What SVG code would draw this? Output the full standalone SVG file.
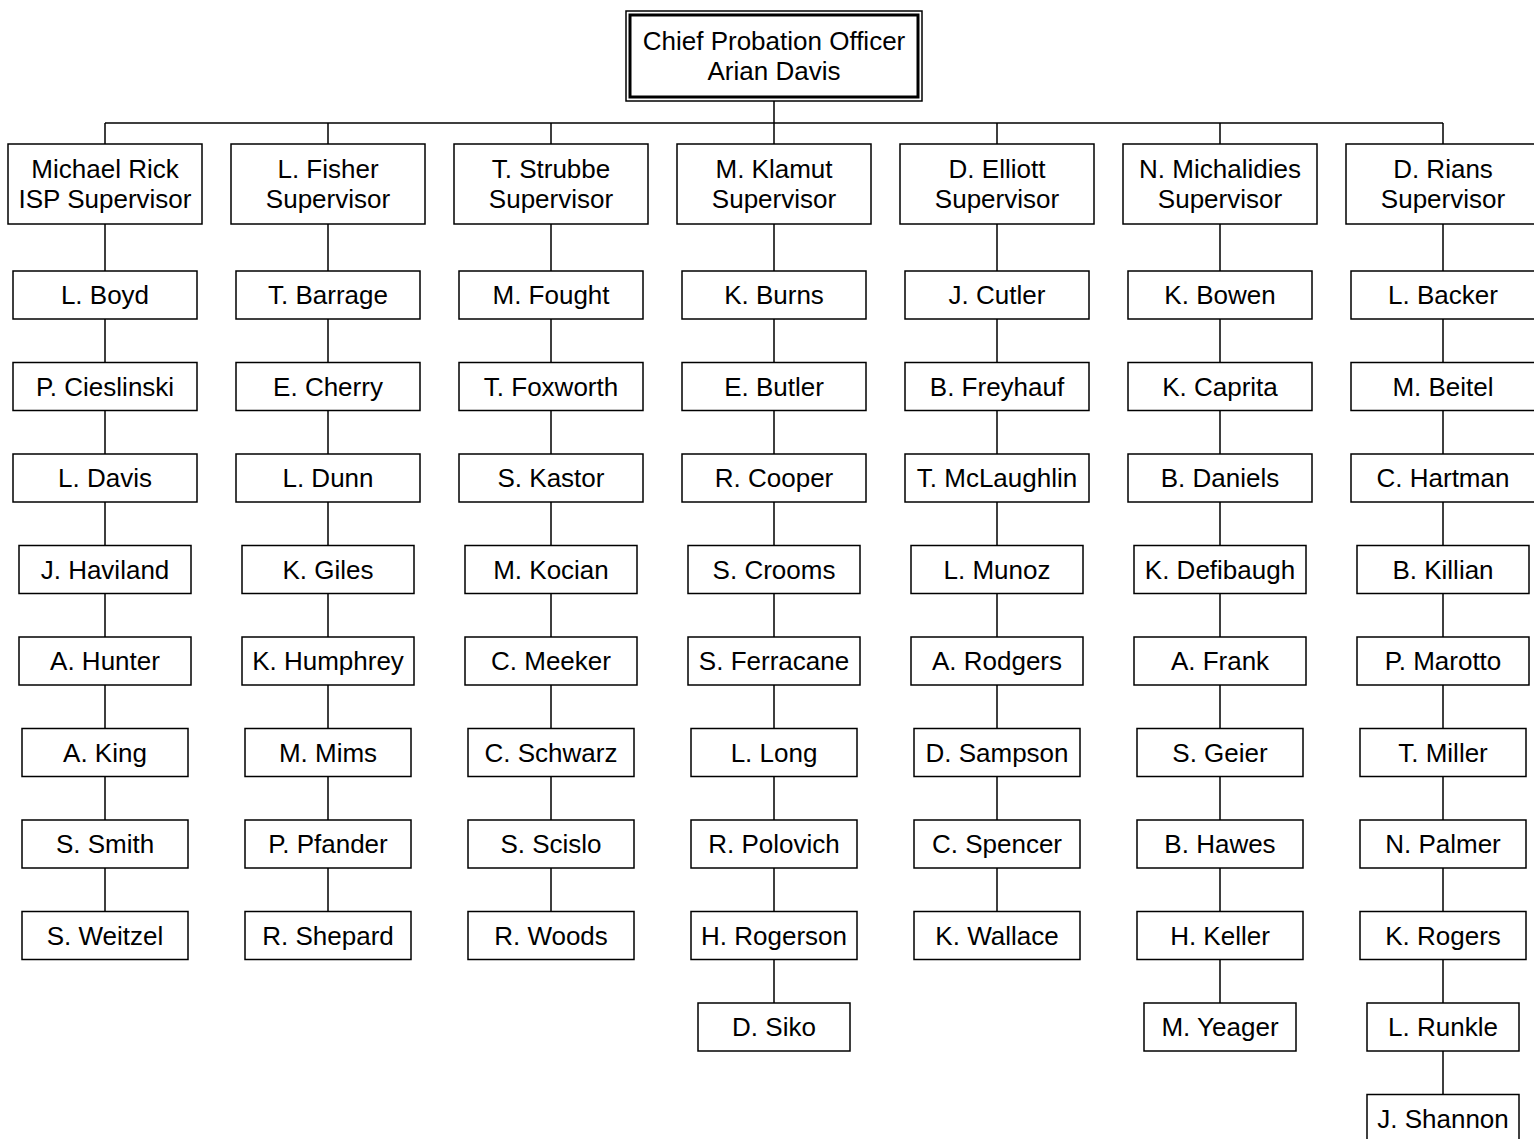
<svg xmlns="http://www.w3.org/2000/svg" width="1534" height="1139" viewBox="0 0 1534 1139">
<style>
.b{fill:#fff;stroke:#000;stroke-width:1.5}
.tk{fill:none;stroke:#000;stroke-width:3}
.c{fill:none;stroke:#000;stroke-width:1.5}
text{font-family:"Liberation Sans",Arial,sans-serif;font-size:26px;fill:#000;text-anchor:middle}
</style>
<rect width="1534" height="1139" fill="#fff"/>
<g id="connectors">
<path class="c" d="M774 101V123M105 123H1443M105 123V911.5M328 123V911.5M551 123V911.5M774 123V1003M997 123V911.5M1220 123V1003M1443 123V1094.5"/>
</g>
<g id="chief"><rect class="b" x="626" y="11" width="296" height="90"/><rect class="tk" x="630" y="15" width="288" height="82"/><text x="774" y="50">Chief Probation Officer</text><text x="774" y="80">Arian Davis</text></g>
<g id="sup-rick"><rect class="b" x="8" y="144" width="194" height="80"/><text x="105" y="178">Michael Rick</text><text x="105" y="208">ISP Supervisor</text></g>
<g id="sup-fisher"><rect class="b" x="231" y="144" width="194" height="80"/><text x="328" y="178">L. Fisher</text><text x="328" y="208">Supervisor</text></g>
<g id="sup-strubbe"><rect class="b" x="454" y="144" width="194" height="80"/><text x="551" y="178">T. Strubbe</text><text x="551" y="208">Supervisor</text></g>
<g id="sup-klamut"><rect class="b" x="677" y="144" width="194" height="80"/><text x="774" y="178">M. Klamut</text><text x="774" y="208">Supervisor</text></g>
<g id="sup-elliott"><rect class="b" x="900" y="144" width="194" height="80"/><text x="997" y="178">D. Elliott</text><text x="997" y="208">Supervisor</text></g>
<g id="sup-michalidies"><rect class="b" x="1123" y="144" width="194" height="80"/><text x="1220" y="178">N. Michalidies</text><text x="1220" y="208">Supervisor</text></g>
<g id="sup-rians"><rect class="b" x="1346" y="144" width="194" height="80"/><text x="1443" y="178">D. Rians</text><text x="1443" y="208">Supervisor</text></g>

<g id="boyd"><rect class="b" x="13" y="271" width="184" height="48"/><text x="105" y="304.3">L. Boyd</text></g>
<g id="cieslinski"><rect class="b" x="13" y="362.5" width="184" height="48"/><text x="105" y="395.8">P. Cieslinski</text></g>
<g id="ldavis"><rect class="b" x="13" y="454" width="184" height="48"/><text x="105" y="487.3">L. Davis</text></g>
<g id="haviland"><rect class="b" x="19" y="545.5" width="172" height="48"/><text x="105" y="578.8">J. Haviland</text></g>
<g id="hunter"><rect class="b" x="19" y="637" width="172" height="48"/><text x="105" y="670.3">A. Hunter</text></g>
<g id="king"><rect class="b" x="22" y="728.5" width="166" height="48"/><text x="105" y="761.8">A. King</text></g>
<g id="smith"><rect class="b" x="22" y="820" width="166" height="48"/><text x="105" y="853.3">S. Smith</text></g>
<g id="weitzel"><rect class="b" x="22" y="911.5" width="166" height="48"/><text x="105" y="944.8">S. Weitzel</text></g>

<g id="barrage"><rect class="b" x="236" y="271" width="184" height="48"/><text x="328" y="304.3">T. Barrage</text></g>
<g id="cherry"><rect class="b" x="236" y="362.5" width="184" height="48"/><text x="328" y="395.8">E. Cherry</text></g>
<g id="dunn"><rect class="b" x="236" y="454" width="184" height="48"/><text x="328" y="487.3">L. Dunn</text></g>
<g id="giles"><rect class="b" x="242" y="545.5" width="172" height="48"/><text x="328" y="578.8">K. Giles</text></g>
<g id="humphrey"><rect class="b" x="242" y="637" width="172" height="48"/><text x="328" y="670.3">K. Humphrey</text></g>
<g id="mims"><rect class="b" x="245" y="728.5" width="166" height="48"/><text x="328" y="761.8">M. Mims</text></g>
<g id="pfander"><rect class="b" x="245" y="820" width="166" height="48"/><text x="328" y="853.3">P. Pfander</text></g>
<g id="shepard"><rect class="b" x="245" y="911.5" width="166" height="48"/><text x="328" y="944.8">R. Shepard</text></g>

<g id="fought"><rect class="b" x="459" y="271" width="184" height="48"/><text x="551" y="304.3">M. Fought</text></g>
<g id="foxworth"><rect class="b" x="459" y="362.5" width="184" height="48"/><text x="551" y="395.8">T. Foxworth</text></g>
<g id="kastor"><rect class="b" x="459" y="454" width="184" height="48"/><text x="551" y="487.3">S. Kastor</text></g>
<g id="kocian"><rect class="b" x="465" y="545.5" width="172" height="48"/><text x="551" y="578.8">M. Kocian</text></g>
<g id="meeker"><rect class="b" x="465" y="637" width="172" height="48"/><text x="551" y="670.3">C. Meeker</text></g>
<g id="schwarz"><rect class="b" x="468" y="728.5" width="166" height="48"/><text x="551" y="761.8">C. Schwarz</text></g>
<g id="scislo"><rect class="b" x="468" y="820" width="166" height="48"/><text x="551" y="853.3">S. Scislo</text></g>
<g id="woods"><rect class="b" x="468" y="911.5" width="166" height="48"/><text x="551" y="944.8">R. Woods</text></g>

<g id="burns"><rect class="b" x="682" y="271" width="184" height="48"/><text x="774" y="304.3">K. Burns</text></g>
<g id="butler"><rect class="b" x="682" y="362.5" width="184" height="48"/><text x="774" y="395.8">E. Butler</text></g>
<g id="cooper"><rect class="b" x="682" y="454" width="184" height="48"/><text x="774" y="487.3">R. Cooper</text></g>
<g id="crooms"><rect class="b" x="688" y="545.5" width="172" height="48"/><text x="774" y="578.8">S. Crooms</text></g>
<g id="ferracane"><rect class="b" x="688" y="637" width="172" height="48"/><text x="774" y="670.3">S. Ferracane</text></g>
<g id="long"><rect class="b" x="691" y="728.5" width="166" height="48"/><text x="774" y="761.8">L. Long</text></g>
<g id="polovich"><rect class="b" x="691" y="820" width="166" height="48"/><text x="774" y="853.3">R. Polovich</text></g>
<g id="rogerson"><rect class="b" x="691" y="911.5" width="166" height="48"/><text x="774" y="944.8">H. Rogerson</text></g>
<g id="siko"><rect class="b" x="698" y="1003" width="152" height="48"/><text x="774" y="1036.3">D. Siko</text></g>

<g id="cutler"><rect class="b" x="905" y="271" width="184" height="48"/><text x="997" y="304.3">J. Cutler</text></g>
<g id="freyhauf"><rect class="b" x="905" y="362.5" width="184" height="48"/><text x="997" y="395.8">B. Freyhauf</text></g>
<g id="mclaughlin"><rect class="b" x="905" y="454" width="184" height="48"/><text x="997" y="487.3">T. McLaughlin</text></g>
<g id="munoz"><rect class="b" x="911" y="545.5" width="172" height="48"/><text x="997" y="578.8">L. Munoz</text></g>
<g id="rodgers"><rect class="b" x="911" y="637" width="172" height="48"/><text x="997" y="670.3">A. Rodgers</text></g>
<g id="sampson"><rect class="b" x="914" y="728.5" width="166" height="48"/><text x="997" y="761.8">D. Sampson</text></g>
<g id="spencer"><rect class="b" x="914" y="820" width="166" height="48"/><text x="997" y="853.3">C. Spencer</text></g>
<g id="wallace"><rect class="b" x="914" y="911.5" width="166" height="48"/><text x="997" y="944.8">K. Wallace</text></g>

<g id="bowen"><rect class="b" x="1128" y="271" width="184" height="48"/><text x="1220" y="304.3">K. Bowen</text></g>
<g id="caprita"><rect class="b" x="1128" y="362.5" width="184" height="48"/><text x="1220" y="395.8">K. Caprita</text></g>
<g id="daniels"><rect class="b" x="1128" y="454" width="184" height="48"/><text x="1220" y="487.3">B. Daniels</text></g>
<g id="defibaugh"><rect class="b" x="1134" y="545.5" width="172" height="48"/><text x="1220" y="578.8">K. Defibaugh</text></g>
<g id="frank"><rect class="b" x="1134" y="637" width="172" height="48"/><text x="1220" y="670.3">A. Frank</text></g>
<g id="geier"><rect class="b" x="1137" y="728.5" width="166" height="48"/><text x="1220" y="761.8">S. Geier</text></g>
<g id="hawes"><rect class="b" x="1137" y="820" width="166" height="48"/><text x="1220" y="853.3">B. Hawes</text></g>
<g id="keller"><rect class="b" x="1137" y="911.5" width="166" height="48"/><text x="1220" y="944.8">H. Keller</text></g>
<g id="yeager"><rect class="b" x="1144" y="1003" width="152" height="48"/><text x="1220" y="1036.3">M. Yeager</text></g>

<g id="backer"><rect class="b" x="1351" y="271" width="184" height="48"/><text x="1443" y="304.3">L. Backer</text></g>
<g id="beitel"><rect class="b" x="1351" y="362.5" width="184" height="48"/><text x="1443" y="395.8">M. Beitel</text></g>
<g id="hartman"><rect class="b" x="1351" y="454" width="184" height="48"/><text x="1443" y="487.3">C. Hartman</text></g>
<g id="killian"><rect class="b" x="1357" y="545.5" width="172" height="48"/><text x="1443" y="578.8">B. Killian</text></g>
<g id="marotto"><rect class="b" x="1357" y="637" width="172" height="48"/><text x="1443" y="670.3">P. Marotto</text></g>
<g id="miller"><rect class="b" x="1360" y="728.5" width="166" height="48"/><text x="1443" y="761.8">T. Miller</text></g>
<g id="palmer"><rect class="b" x="1360" y="820" width="166" height="48"/><text x="1443" y="853.3">N. Palmer</text></g>
<g id="rogers"><rect class="b" x="1360" y="911.5" width="166" height="48"/><text x="1443" y="944.8">K. Rogers</text></g>
<g id="runkle"><rect class="b" x="1367" y="1003" width="152" height="48"/><text x="1443" y="1036.3">L. Runkle</text></g>
<g id="shannon"><rect class="b" x="1367" y="1094.5" width="152" height="48"/><text x="1443" y="1127.8">J. Shannon</text></g>
</svg>
